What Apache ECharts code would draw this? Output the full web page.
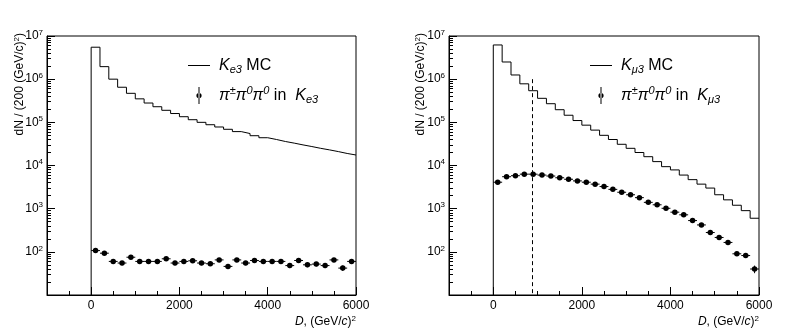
<!DOCTYPE html>
<html>
<head>
<meta charset="utf-8">
<script src="https://cdn.jsdelivr.net/npm/echarts@6/dist/echarts.min.js"></script>
<style>
html,body{margin:0;padding:0;background:#fff;}
#chart{width:806px;height:331px;}
</style>
</head>
<body>
<div id="chart"></div>
<script>
// 30 bins of 200 (GeV/c)^2, left edges
var binLow = [0,200,400,600,800,1000,1200,1400,1600,1800,2000,2200,2400,2600,2800,
              3000,3200,3400,3600,3800,4000,4200,4400,4600,4800,5000,5200,5400,5600,5800];
var binWidth = 200;

// Ke3 panel
var ke3MC   = [5.5e6,1.95e6,1.0e6,6.5e5,4.7e5,3.5e5,2.8e5,2.3e5,1.9e5,1.6e5,1.35e5,1.15e5,1.0e5,8.8e4,7.8e4,
               6.9e4,6.1e4,5.5e4,4.9e4,4.4e4,4.0e4,3.6e4,3.3e4,3.0e4,2.75e4,2.5e4,2.3e4,2.1e4,1.9e4,1.75e4];
var ke3Data = [107,93,60,55,75,60,60,60,69,55,60,62,55,53,65,46,65,55,63,60,60,60,48,63,50,52,48,65,42,60];
var ke3Err  = [8,8,6,6,7,6,6,6,7,6,6,6,6,6,7,6,7,6,7,6,6,6,6,7,6,6,6,7,6,7];

// Kmu3 panel
var km3MC   = [6.2e6,2.5e6,1.25e6,7.8e5,5.4e5,3.6e5,2.7e5,1.96e5,1.46e5,1.1e5,8.6e4,6.6e4,5.0e4,4.0e4,3.1e4,
               2.5e4,2.0e4,1.6e4,1.23e4,9.4e3,7.9e3,6.0e3,4.7e3,3.7e3,3.0e3,2.1e3,1.6e3,1.2e3,9.0e2,6.0e2];
var km3Data = [4100,5500,5800,6300,6300,6000,5700,5200,4800,4400,4100,3700,3250,2800,2400,
               2100,1800,1400,1230,1020,830,720,530,420,280,215,165,90,82,40];
var km3Err  = [65,75,75,80,80,78,75,72,70,66,64,61,57,53,49,46,42,37,35,32,29,27,23,20,17,15,13,10,9,8];
var cutD = 880;   // dashed line position

// axes
var xMin = -1000, xMax = 6000, yMin = 10, yMax = 1e7;
var xMajorTicks = [0,2000,4000,6000];
var xMinorTicks = [-500,500,1000,1500,2500,3000,3500,4500,5000,5500];
var yMajorTicks = [10,100,1000,10000,100000,1000000,10000000];
var yMinorTicks = [];
for (var d = 1; d < 7; d++) {
    for (var m = 2; m <= 9; m++) yMinorTicks.push(m * Math.pow(10, d));
}

var FONT = 'Liberation Sans';
var MAJOR = 8, MINOR = 4;
var GRID_W = 309.5, GRID_H = 259;

// histogram outline, starting from the bottom of the frame
function histLine(vals) {
    var pts = [[binLow[0], yMin]];
    for (var i = 0; i < vals.length; i++) {
        pts.push([binLow[i], vals[i]]);
        pts.push([binLow[i] + binWidth, vals[i]]);
    }
    return pts;
}
function points(vals) {
    var out = [];
    for (var i = 0; i < vals.length; i++) out.push([binLow[i] + binWidth / 2, vals[i]]);
    return out;
}
function errRenderer(vals, errs) {
    return function (params, api) {
        var i = params.dataIndex;
        var x = binLow[i] + binWidth / 2, y = vals[i], e = errs[i];
        var l = api.coord([x - binWidth / 2, y]), r = api.coord([x + binWidth / 2, y]);
        var t = api.coord([x, y + e]), b = api.coord([x, y - e]);
        var st = {stroke: '#000', lineWidth: 1};
        return {type: 'group', children: [
            {type: 'line', shape: {x1: l[0], y1: l[1], x2: r[0], y2: r[1]}, style: st},
            {type: 'line', shape: {x1: t[0], y1: t[1], x2: b[0], y2: b[1]}, style: st}
        ]};
    };
}

// inward ticks as short segments in data space (length converted from pixels)
function tickSegments() {
    var decades = Math.log(yMax / yMin) / Math.LN10;
    var segs = [];
    function xt(v, len) {
        segs.push([{coord: [v, yMin]}, {coord: [v, yMin * Math.pow(10, len * decades / GRID_H)]}]);
    }
    function yt(v, len) {
        segs.push([{coord: [xMin, v]}, {coord: [xMin + len * (xMax - xMin) / GRID_W, v]}]);
    }
    xMajorTicks.forEach(function (v) { xt(v, MAJOR); });
    xMinorTicks.forEach(function (v) { xt(v, MINOR); });
    yMajorTicks.forEach(function (v) { yt(v, MAJOR); });
    yMinorTicks.forEach(function (v) { yt(v, MINOR); });
    return segs;
}

var supRich = {
    sup: {fontSize: 8, fontFamily: FONT, color: '#000', padding: [0, 0, 7, 0]}
};
var legendRich = {
    sp: {width: 4},
    i: {fontStyle: 'italic', fontSize: 16, fontFamily: FONT, color: '#000'},
    sub: {fontStyle: 'italic', fontSize: 11, fontFamily: FONT, color: '#000', padding: [9, 0, 0, 0]},
    sup: {fontStyle: 'italic', fontSize: 11, fontFamily: FONT, color: '#000', padding: [0, 0, 9, 0]},
    n: {fontSize: 16, fontFamily: FONT, color: '#000'}
};
var legendText = {
    'Ke3 MC': '{sp|}{i|K}{sub|e3}{n| MC}',
    'pi in Ke3': '{sp|}{i|π}{sup|±}{i|π}{sup|0}{i|π}{sup|0}{n| in  }{i|K}{sub|e3}',
    'Kmu3 MC': '{sp|}{i|K}{sub|μ3}{n| MC}',
    'pi in Kmu3': '{sp|}{i|π}{sup|±}{i|π}{sup|0}{i|π}{sup|0}{n| in  }{i|K}{sub|μ3}'
};
var lineIcon = 'path://M0,0H22V1H0Z';
var pointIcon = 'path://M4.5,0H5.5V17H4.5Z M2.4,8.5A2.6,2.6 0 1,0 7.6,8.5A2.6,2.6 0 1,0 2.4,8.5Z';

function xAxis(gi) {
    return {
        gridIndex: gi, type: 'value', min: xMin, max: xMax, position: 'bottom',
        axisLine: {show: true, onZero: false, lineStyle: {color: '#000', width: 1}},
        axisTick: {show: false},
        axisLabel: {customValues: xMajorTicks, color: '#000', fontSize: 12, fontFamily: FONT, margin: 5,
                    formatter: function (v) { return String(v); }},
        splitLine: {show: false}
    };
}
function yAxis(gi) {
    return {
        gridIndex: gi, type: 'log', logBase: 10, min: yMin, max: yMax, position: 'left',
        axisLine: {show: true, onZero: false, lineStyle: {color: '#000', width: 1}},
        axisTick: {show: false},
        axisLabel: {
            customValues: yMajorTicks, color: '#000', fontSize: 12, fontFamily: FONT, margin: 4,
            formatter: function (v) {
                var e = Math.round(Math.log(v) / Math.LN10);
                return e < 2 ? '' : '10{sup|' + e + '}';
            },
            rich: supRich
        },
        splitLine: {show: false}
    };
}

function legendFor(left, names) {
    return {
        orient: 'vertical', left: left, top: 57.5, padding: 0,
        itemWidth: 22, itemHeight: 17, itemGap: 10,
        selectedMode: false,
        data: [{name: names[0], icon: lineIcon, itemStyle: {color: '#000', opacity: 1}},
               {name: names[1], icon: pointIcon, itemStyle: {color: '#000', opacity: 1}}],
        formatter: function (n) { return legendText[n]; },
        textStyle: {rich: legendRich, fontSize: 16, fontFamily: FONT, color: '#000'}
    };
}

function panelSeries(gi, mcName, dataName, mc, vals, errs) {
    return [
        {name: mcName, type: 'line', xAxisIndex: gi, yAxisIndex: gi, symbol: 'none',
         lineStyle: {color: '#000', width: 1}, itemStyle: {color: '#000'}, data: histLine(mc)},
        {type: 'custom', xAxisIndex: gi, yAxisIndex: gi, renderItem: errRenderer(vals, errs),
         encode: {x: 0, y: 1}, data: points(vals)},
        {name: dataName, type: 'scatter', xAxisIndex: gi, yAxisIndex: gi, symbol: 'circle', symbolSize: 5.5,
         itemStyle: {color: '#000', opacity: 1}, data: points(vals),
         markLine: {silent: true, symbol: 'none', label: {show: false}, animation: false,
                    lineStyle: {color: '#000', width: 1, type: 'solid', opacity: 1},
                    emphasis: {disabled: true}, data: tickSegments()}}
    ];
}

function titleTexts() {
    var ySub = {s: {fontSize: 8, fontFamily: FONT, fill: '#000', padding: [0, 0, 7, 0]}};
    var xRich = {i: {fontStyle: 'italic', fontSize: 12, fontFamily: FONT, fill: '#000'},
                 s: {fontSize: 8, fontFamily: FONT, fill: '#000', padding: [0, 0, 7, 0]}};
    var out = [];
    [[20, 356], [421, 759]].forEach(function (p) {
        out.push({type: 'text', x: p[0], y: 33, rotation: Math.PI / 2, style: {
            text: 'dN / (200 (GeV/c){s|2})', align: 'right', verticalAlign: 'middle',
            fontSize: 12, fontFamily: FONT, fill: '#000', rich: ySub}});
        out.push({type: 'text', x: p[1], y: 322, style: {
            text: '{i|D}, (GeV/{i|c}){s|2}', align: 'right', verticalAlign: 'middle',
            fontSize: 12, fontFamily: FONT, fill: '#000', rich: xRich}});
    });
    return out;
}

var chart = echarts.init(document.getElementById('chart'), null, {renderer: 'canvas'});
var series = panelSeries(0, 'Ke3 MC', 'pi in Ke3', ke3MC, ke3Data, ke3Err)
    .concat(panelSeries(1, 'Kmu3 MC', 'pi in Kmu3', km3MC, km3Data, km3Err));
series[3].markLine = {
    silent: true, symbol: 'none', label: {show: false},
    lineStyle: {color: '#000', width: 1, type: [4, 3]},
    data: [[{coord: [cutD, 1e6]}, {coord: [cutD, yMin]}]]
};

var option = {
    animation: false,
    backgroundColor: '#fff',
    grid: [
        {left: 47, top: 36, width: 309, height: GRID_H, show: true, borderColor: '#000', borderWidth: 1, outerBoundsMode: 'none'},
        {left: 449, top: 36, width: 310, height: GRID_H, show: true, borderColor: '#000', borderWidth: 1, outerBoundsMode: 'none'}
    ],
    xAxis: [xAxis(0), xAxis(1)],
    yAxis: [yAxis(0), yAxis(1)],
    legend: [legendFor(188, ['Ke3 MC', 'pi in Ke3']), legendFor(590, ['Kmu3 MC', 'pi in Kmu3'])],
    series: series,
    graphic: {elements: titleTexts()}
};
chart.setOption(option);
</script>
</body>
</html>
